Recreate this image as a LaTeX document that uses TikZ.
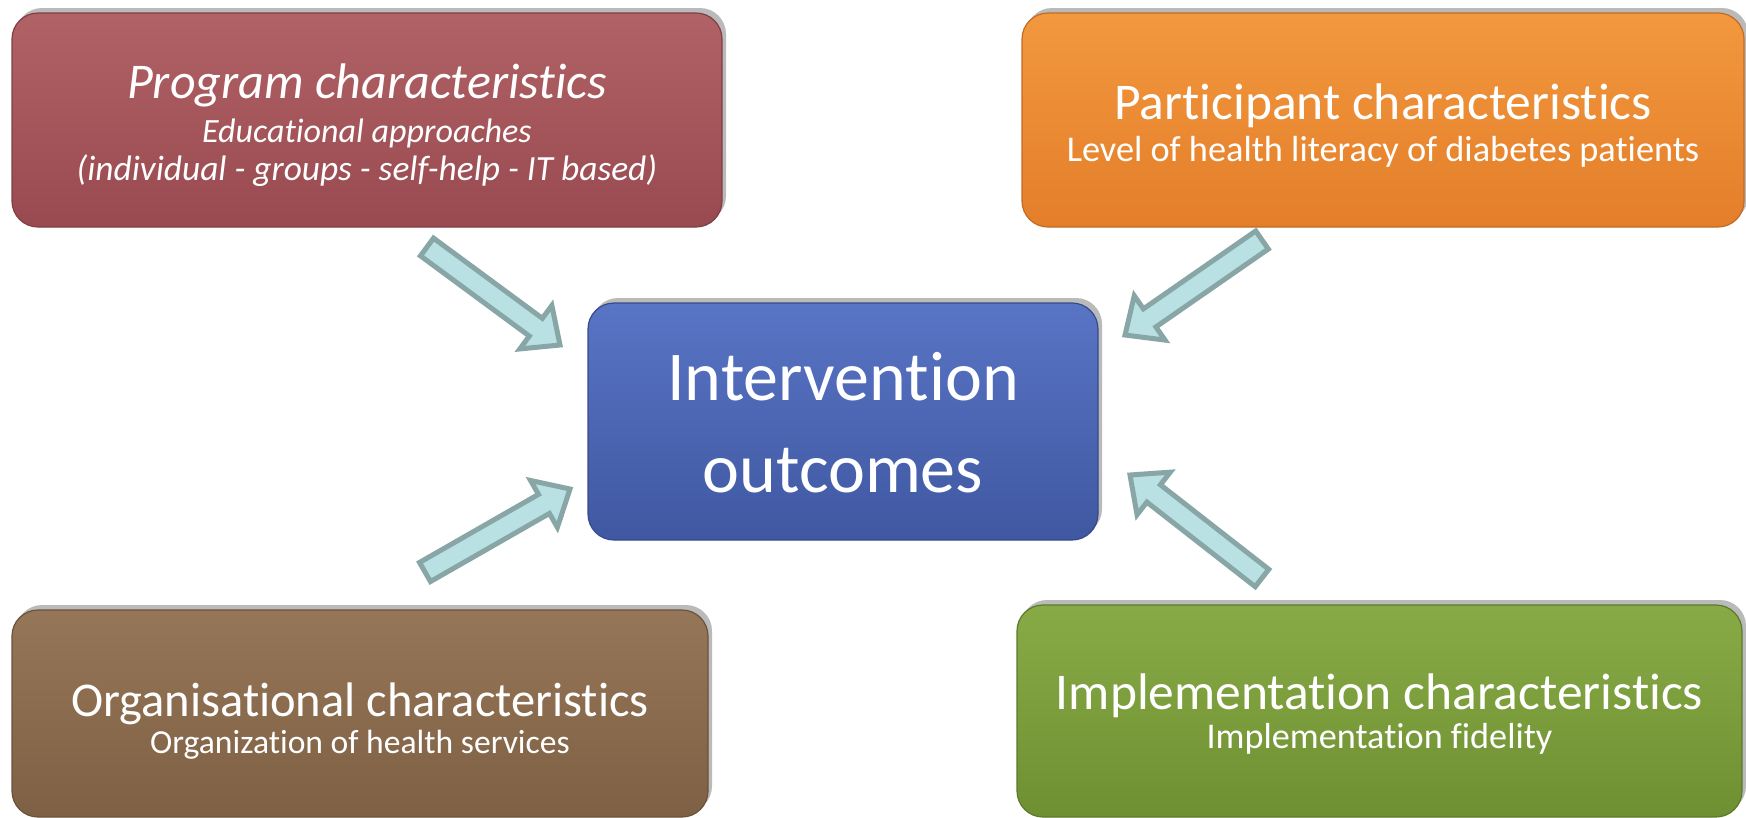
\documentclass[tikz,border=0pt]{standalone}
\usepackage{fontspec}
\setmainfont{Carlito}[Ligatures=NoCommon]
\usetikzlibrary{calc,shadows}

% box colours (lighter top, base bottom)
\definecolor{progtop}{RGB}{176,98,102}
\definecolor{progbot}{RGB}{152,74,80}
\definecolor{parttop}{RGB}{242,152,62}
\definecolor{partbot}{RGB}{228,126,42}
\definecolor{centtop}{RGB}{88,116,196}
\definecolor{centbot}{RGB}{64,88,162}
\definecolor{orgtop}{RGB}{150,118,88}
\definecolor{orgbot}{RGB}{126,96,68}
\definecolor{impltop}{RGB}{136,170,70}
\definecolor{implbot}{RGB}{110,144,50}
% block arrows
\definecolor{arrowfill}{RGB}{185,224,227}
\definecolor{arrowline}{RGB}{136,166,166}

\tikzset{
  box/.style={rounded corners=26pt, draw=#1bot!85!black, line width=1.2pt,
    top color=#1top, bottom color=#1bot, text=white, align=center, inner sep=0pt,
    drop shadow={shadow xshift=4pt, shadow yshift=5pt, fill=black!45, opacity=.6}},
  fat/.style={fill=arrowfill, draw=arrowline, line width=5pt, line join=miter, miter limit=4},
}

% hollow block arrow from tail #1 to tip #2
\newcommand{\fatarrow}[2]{%
  \coordinate (#2-n) at ($(#2)!30pt!(#1)$);
  \filldraw[fat] ($(#1)!11pt!90:(#2)$) -- ($(#2-n)!11pt!90:(#2)$)
    -- ($(#2-n)!27pt!90:(#2)$) -- (#2) -- ($(#2-n)!27pt!-90:(#2)$)
    -- ($(#2-n)!11pt!-90:(#2)$) -- ($(#1)!11pt!-90:(#2)$) -- cycle;}
% invisible strut setting the height of a first line
\newcommand{\topstrut}[1]{\rule{0pt}{#1}}

\begin{document}
\begin{tikzpicture}[x=1pt,y=-1pt]
  \useasboundingbox[fill=white] (0,0) rectangle (1746,817);

  \node[box=prog, minimum width=710pt, minimum height=214pt,
        font=\fontsize{34}{38}\selectfont\itshape] (prog) at (367,120)
    {\topstrut{45pt}{\fontsize{50}{50}\selectfont Program characteristics}\\[6pt]
     Educational approaches\\[0pt]
     {\fontsize{35.4}{38}\selectfont (individual - groups - self-help - IT based)}};

  \node[box=part, minimum width=722pt, minimum height=214pt,
        font=\fontsize{36.3}{42}\selectfont] (part) at (1383,120)
    {\topstrut{47.5pt}{\fontsize{51.5}{50}\selectfont Participant characteristics}\\
     Level of health literacy of diabetes patients};

  \node[box=cent, minimum width=510pt, minimum height=237pt,
        font=\fontsize{70}{92}\selectfont] (cent) at (843,421.5)
    {\topstrut{51pt}Intervention\\ outcomes};

  \node[box=org, minimum width=696pt, minimum height=207pt,
        font=\fontsize{33.6}{37}\selectfont] (org) at (360,713.5)
    {\topstrut{49pt}{\fontsize{48.5}{50}\selectfont Organisational characteristics}\\
     Organization of health services};

  \node[box=impl, minimum width=725pt, minimum height=212pt,
        font=\fontsize{36.2}{39}\selectfont] (impl) at (1379.5,711)
    {\topstrut{42pt}{\fontsize{51.5}{50}\selectfont Implementation characteristics}\\
     Implementation fidelity};

  % arrow ends
  \coordinate (a1t) at (427,247);  \coordinate (a1h) at (560,345);
  \coordinate (a2t) at (1262,240); \coordinate (a2h) at (1125,335);
  \coordinate (a3t) at (425,572);  \coordinate (a3h) at (570,489);
  \coordinate (a4t) at (1262,578); \coordinate (a4h) at (1130,475);

  \fatarrow{a1t}{a1h}
  \fatarrow{a2t}{a2h}
  \fatarrow{a3t}{a3h}
  \fatarrow{a4t}{a4h}
\end{tikzpicture}
\end{document}
